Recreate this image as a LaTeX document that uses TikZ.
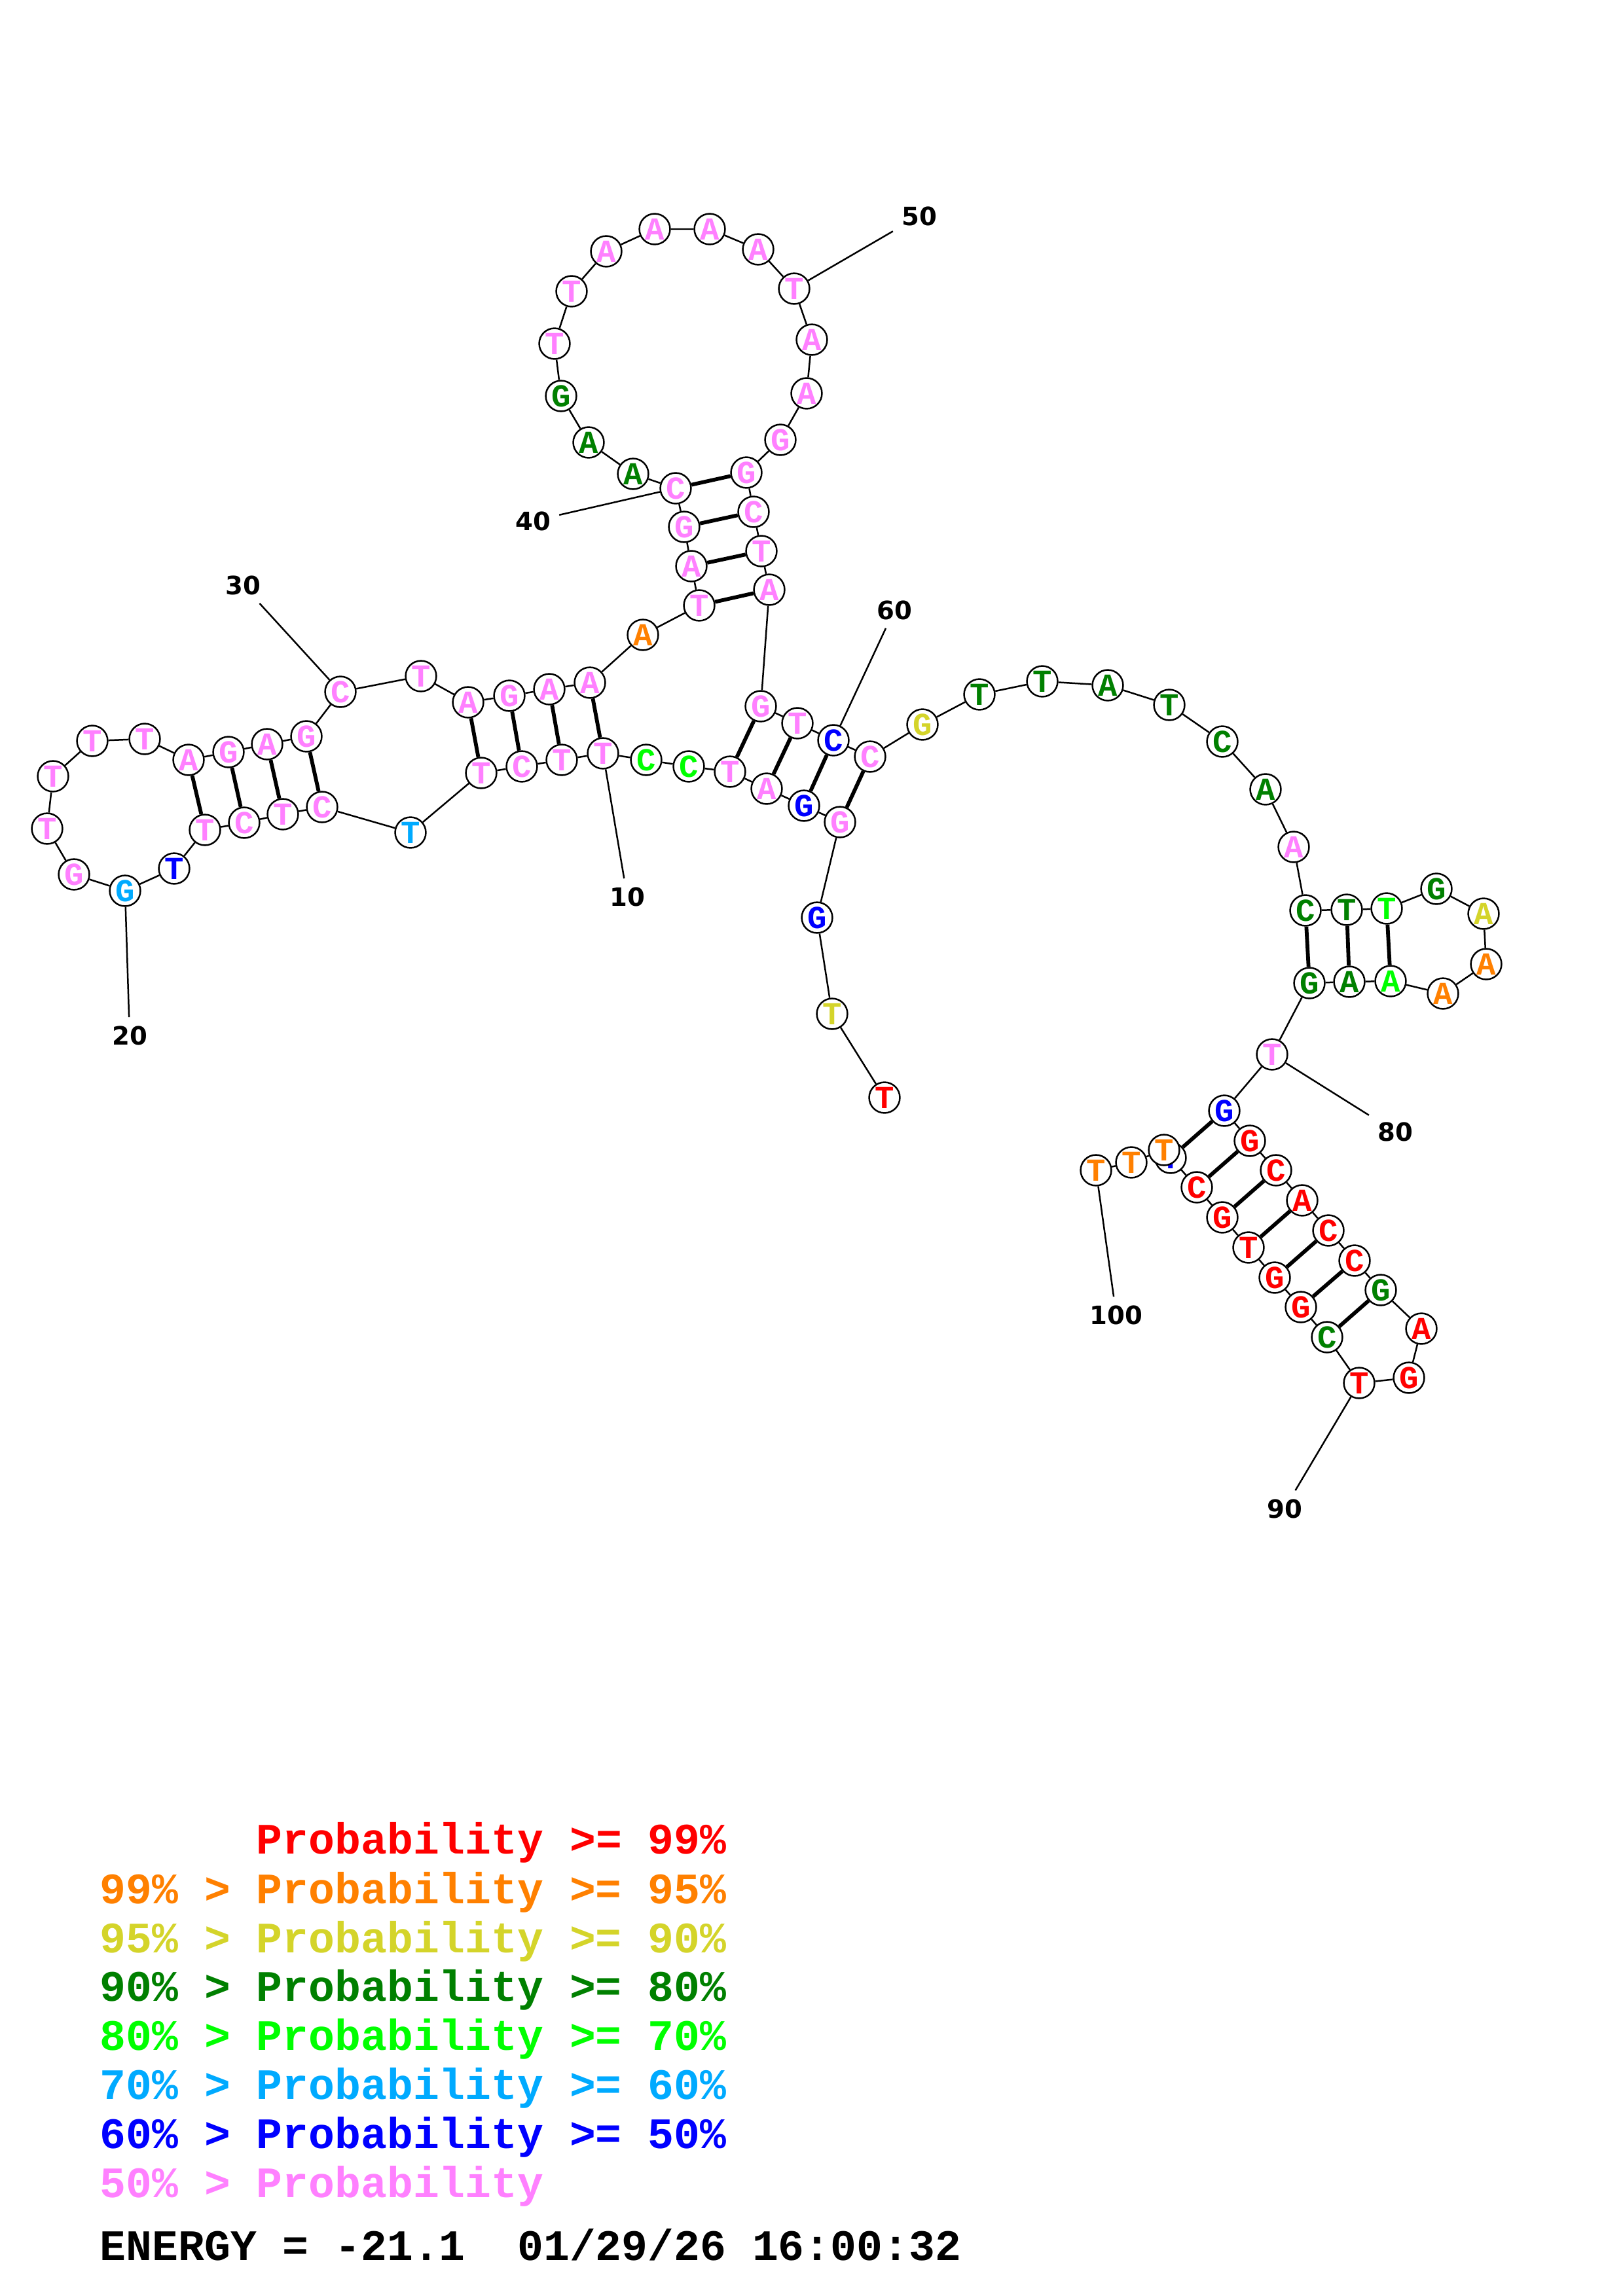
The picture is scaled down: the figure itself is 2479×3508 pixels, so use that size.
\documentclass[tikz,border=0pt]{standalone}
\usepackage{fontspec}
\usetikzlibrary{backgrounds}
\newfontfamily\basefont{Liberation Mono}
\newfontfamily\numfont{DejaVu Sans}
\newlength{\du}
\setlength{\du}{0.2409pt}
\definecolor{prob99}{RGB}{255,0,0}
\definecolor{prob95}{RGB}{255,128,0}
\definecolor{prob90}{RGB}{212,212,42}
\definecolor{prob80}{RGB}{0,128,0}
\definecolor{prob70}{RGB}{0,255,0}
\definecolor{prob60}{RGB}{0,170,255}
\definecolor{prob50}{RGB}{0,0,255}
\definecolor{problow}{RGB}{255,128,255}

\begin{document}
\begin{tikzpicture}[x=1\du,y=-1\du,
  base/.style={circle,draw,fill=white,line width=0.6pt,minimum size=11.3pt,inner sep=0pt,
    font={\basefont\bfseries\fontsize{11.8pt}{12pt}\selectfont}},
  b99/.style={base,text=prob99},
  b95/.style={base,text=prob95},
  b90/.style={base,text=prob90},
  b80/.style={base,text=prob80},
  b70/.style={base,text=prob70},
  b60/.style={base,text=prob60},
  b50/.style={base,text=prob50},
  blo/.style={base,text=problow},
  num/.style={font={\numfont\bfseries\fontsize{9.3pt}{10pt}\selectfont},inner sep=3pt},
  legend/.style={anchor=base west,inner sep=0pt,font={\basefont\bfseries\fontsize{16pt}{18pt}\selectfont}},
  bb/.style={line width=0.6pt},
  pair/.style={line width=1.4pt}]
\useasboundingbox (0,0) rectangle (2479,3508);
% bases 1-40
\node[b99] (n1) at (1351,1677) {T};
\node[b90] (n2) at (1271,1549) {T};
\node[b50] (n3) at (1248,1402) {G};
\node[blo] (n4) at (1283,1256) {G};
\node[b50] (n5) at (1228,1231) {G};
\node[blo] (n6) at (1171,1205) {A};
\node[blo] (n7) at (1115,1179) {T};
\node[b70] (n8) at (1052,1171) {C};
\node[b70] (n9) at (987,1161) {C};
\node[blo] (n10) at (921,1151) {T};
\node[blo] (n11) at (858,1161) {T};
\node[blo] (n12) at (797,1171) {C};
\node[blo] (n13) at (735,1181) {T};
\node[b60] (n14) at (627,1272) {T};
\node[blo] (n15) at (492,1233) {C};
\node[blo] (n16) at (432,1244) {T};
\node[blo] (n17) at (373,1257) {C};
\node[blo] (n18) at (313,1268) {T};
\node[b50] (n19) at (266,1327) {T};
\node[b60] (n20) at (191,1361) {G};
\node[blo] (n21) at (113,1336) {G};
\node[blo] (n22) at (72,1266) {T};
\node[blo] (n23) at (81,1186) {T};
\node[blo] (n24) at (141,1132) {T};
\node[blo] (n25) at (221,1129) {T};
\node[blo] (n26) at (288,1161) {A};
\node[blo] (n27) at (349,1149) {G};
\node[blo] (n28) at (408,1137) {A};
\node[blo] (n29) at (468,1125) {G};
\node[blo] (n30) at (520,1057) {C};
\node[blo] (n31) at (643,1033) {T};
\node[blo] (n32) at (715,1073) {A};
\node[blo] (n33) at (778,1063) {G};
\node[blo] (n34) at (839,1053) {A};
\node[blo] (n35) at (901,1043) {A};
\node[b95] (n36) at (982,970) {A};
\node[blo] (n37) at (1068,925) {T};
\node[blo] (n38) at (1056,865) {A};
\node[blo] (n39) at (1045,805) {G};
\node[blo] (n40) at (1032,746) {C};
% bases 41-80
\node[b80] (n41) at (967,724) {A};
\node[b80] (n42) at (899,676) {A};
\node[b80] (n43) at (857,605) {G};
\node[blo] (n44) at (847,525) {T};
\node[blo] (n45) at (873,445) {T};
\node[blo] (n46) at (926,384) {A};
\node[blo] (n47) at (1000,350) {A};
\node[blo] (n48) at (1084,350) {A};
\node[blo] (n49) at (1158,381) {A};
\node[blo] (n50) at (1213,441) {T};
\node[blo] (n51) at (1240,519) {A};
\node[blo] (n52) at (1232,601) {A};
\node[blo] (n53) at (1192,672) {G};
\node[blo] (n54) at (1140,722) {G};
\node[blo] (n55) at (1151,782) {C};
\node[blo] (n56) at (1163,842) {T};
\node[blo] (n57) at (1175,901) {A};
\node[blo] (n58) at (1162,1079) {G};
\node[blo] (n59) at (1218,1105) {T};
\node[b50] (n60) at (1273,1131) {C};
\node[blo] (n61) at (1329,1156) {C};
\node[b90] (n62) at (1409,1107) {G};
\node[b80] (n63) at (1496,1061) {T};
\node[b80] (n64) at (1592,1041) {T};
\node[b80] (n65) at (1692,1047) {A};
\node[b80] (n66) at (1786,1077) {T};
\node[b80] (n67) at (1867,1133) {C};
\node[b80] (n68) at (1933,1206) {A};
\node[blo] (n69) at (1976,1294) {A};
\node[b80] (n70) at (1994,1391) {C};
\node[b80] (n71) at (2057,1390) {T};
\node[b70] (n72) at (2118,1388) {T};
\node[b80] (n73) at (2194,1358) {G};
\node[b90] (n74) at (2266,1396) {A};
\node[b95] (n75) at (2270,1473) {A};
\node[b95] (n76) at (2204,1518) {A};
\node[b70] (n77) at (2124,1499) {A};
\node[b80] (n78) at (2061,1500) {A};
\node[b80] (n79) at (2000,1502) {G};
\node[blo] (n80) at (1943,1611) {T};
% bases 81-100
\node[b50] (n81) at (1870,1697) {G};
\node[b99] (n82) at (1909,1743) {G};
\node[b99] (n83) at (1949,1788) {C};
\node[b99] (n84) at (1989,1834) {A};
\node[b99] (n85) at (2029,1880) {C};
\node[b99] (n86) at (2069,1926) {C};
\node[b80] (n87) at (2109,1971) {G};
\node[b99] (n88) at (2171,2030) {A};
\node[b99] (n89) at (2152,2105) {G};
\node[b99] (n90) at (2076,2113) {T};
\node[b80] (n91) at (2027,2043) {C};
\node[b99] (n92) at (1987,1997) {G};
\node[b99] (n93) at (1947,1952) {G};
\node[b99] (n94) at (1907,1906) {T};
\node[b99] (n95) at (1867,1860) {G};
\node[b99] (n96) at (1828,1814) {C};
\node[b50] (n97) at (1788,1769) {T};
\node[b95] (n98) at (1778,1757) {T};
\node[b95] (n99) at (1728,1776) {T};
\node[b95] (n100) at (1674,1788) {T};
% numbering
\node[num] (l10) at (958,1370) {10};
\node[num] (l20) at (198,1582) {20};
\node[num] (l30) at (371,894) {30};
\node[num] (l40) at (814,796) {40};
\node[num] (l50) at (1404,330) {50};
\node[num] (l60) at (1366,932) {60};
\node[num] (l80) at (2131,1729) {80};
\node[num] (l90) at (1962,2305) {90};
\node[num] (l100) at (1705,2009) {100};
\begin{pgfonlayer}{background}
\fill[white] (0,0) rectangle (2479,3508);
% backbone
\draw[bb] (n1) -- (n2) -- (n3) -- (n4) -- (n5) -- (n6) -- (n7) -- (n8) -- (n9) -- (n10)
  -- (n11) -- (n12) -- (n13) -- (n14) -- (n15) -- (n16) -- (n17) -- (n18) -- (n19) -- (n20)
  -- (n21) -- (n22) -- (n23) -- (n24) -- (n25) -- (n26) -- (n27) -- (n28) -- (n29) -- (n30)
  -- (n31) -- (n32) -- (n33) -- (n34) -- (n35) -- (n36) -- (n37) -- (n38) -- (n39) -- (n40)
  -- (n41) -- (n42) -- (n43) -- (n44) -- (n45) -- (n46) -- (n47) -- (n48) -- (n49) -- (n50)
  -- (n51) -- (n52) -- (n53) -- (n54) -- (n55) -- (n56) -- (n57) -- (n58) -- (n59) -- (n60)
  -- (n61) -- (n62) -- (n63) -- (n64) -- (n65) -- (n66) -- (n67) -- (n68) -- (n69) -- (n70)
  -- (n71) -- (n72) -- (n73) -- (n74) -- (n75) -- (n76) -- (n77) -- (n78) -- (n79) -- (n80)
  -- (n81) -- (n82) -- (n83) -- (n84) -- (n85) -- (n86) -- (n87) -- (n88) -- (n89) -- (n90)
  -- (n91) -- (n92) -- (n93) -- (n94) -- (n95) -- (n96) -- (n97) -- (n98) -- (n99) -- (n100);
% pairs
\draw[pair] (n4) -- (n61);
\draw[pair] (n5) -- (n60);
\draw[pair] (n6) -- (n59);
\draw[pair] (n7) -- (n58);
\draw[pair] (n10) -- (n35);
\draw[pair] (n11) -- (n34);
\draw[pair] (n12) -- (n33);
\draw[pair] (n13) -- (n32);
\draw[pair] (n15) -- (n29);
\draw[pair] (n16) -- (n28);
\draw[pair] (n17) -- (n27);
\draw[pair] (n18) -- (n26);
\draw[pair] (n37) -- (n57);
\draw[pair] (n38) -- (n56);
\draw[pair] (n39) -- (n55);
\draw[pair] (n40) -- (n54);
\draw[pair] (n70) -- (n79);
\draw[pair] (n71) -- (n78);
\draw[pair] (n72) -- (n77);
\draw[pair] (n81) -- (n97);
\draw[pair] (n82) -- (n96);
\draw[pair] (n83) -- (n95);
\draw[pair] (n84) -- (n94);
\draw[pair] (n85) -- (n93);
\draw[pair] (n86) -- (n92);
\draw[pair] (n87) -- (n91);
% numbering ticks
\draw[bb] (n10) -- (l10);
\draw[bb] (n20) -- (l20);
\draw[bb] (n30) -- (l30);
\draw[bb] (n40) -- (l40);
\draw[bb] (n50) -- (l50);
\draw[bb] (n60) -- (l60);
\draw[bb] (n80) -- (l80);
\draw[bb] (n90) -- (l90);
\draw[bb] (n100) -- (l100);
\end{pgfonlayer}
% legend
\node[legend,text=prob99] (k99) at (152,2832) {\hphantom{99\% > }Probability >= 99\%};
\node[legend,text=prob95] (k95) at (152,2908) {99\% > Probability >= 95\%};
\node[legend,text=prob90] (k90) at (152,2983) {95\% > Probability >= 90\%};
\node[legend,text=prob80] (k80) at (152,3057) {90\% > Probability >= 80\%};
\node[legend,text=prob70] (k70) at (152,3132) {80\% > Probability >= 70\%};
\node[legend,text=prob60] (k60) at (152,3207) {70\% > Probability >= 60\%};
\node[legend,text=prob50] (k50) at (152,3282) {60\% > Probability >= 50\%};
\node[legend,text=problow] (klo) at (152,3357) {50\% > Probability};
\node[legend] (energy) at (152,3453) {ENERGY = -21.1~~01/29/26 16:00:32};
\end{tikzpicture}
\end{document}
